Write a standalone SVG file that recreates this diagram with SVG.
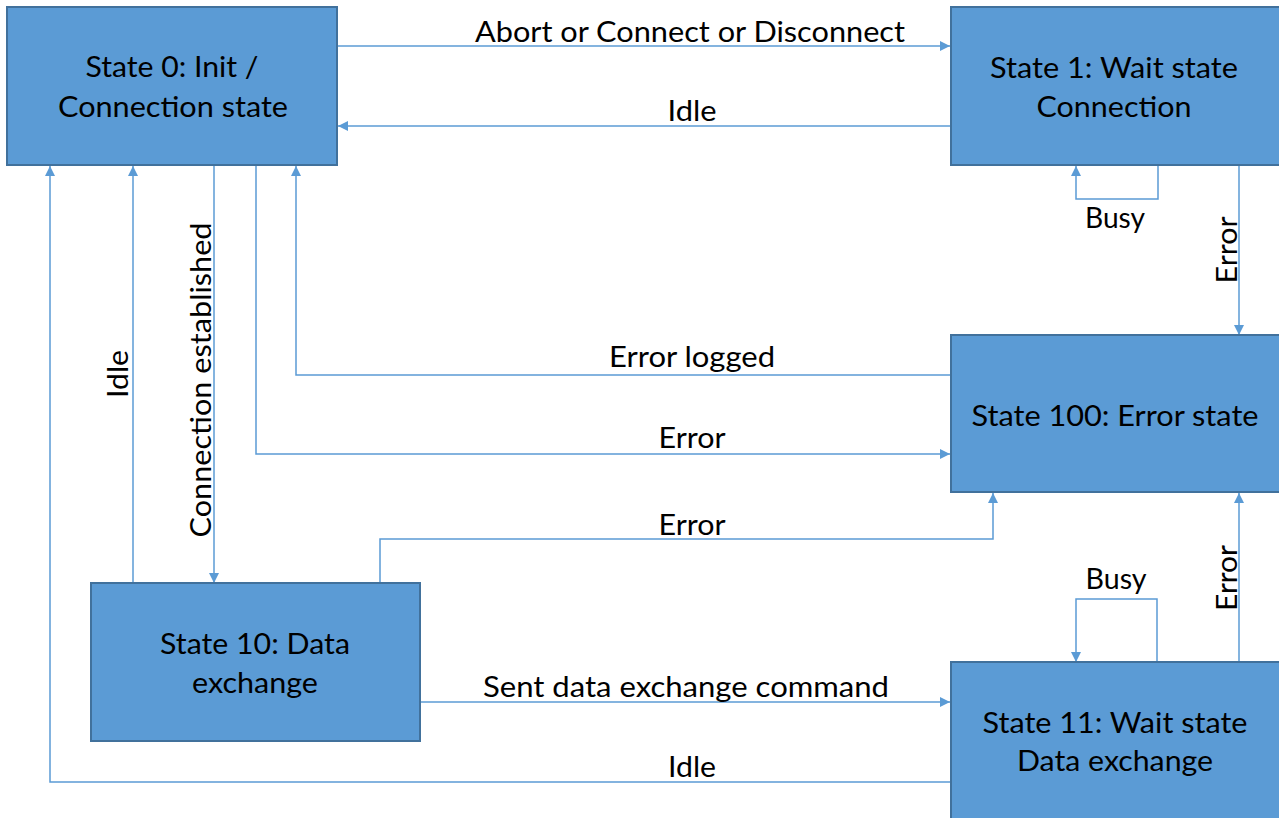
<svg xmlns="http://www.w3.org/2000/svg" width="1279" height="818" viewBox="0 0 1279 818">
  <style>
    .box { fill: #5B9BD5; stroke: #41719C; stroke-width: 2; }
    .lbl { font-family: Lato, "Open Sans", sans-serif; font-size: 28px; fill: #000; text-anchor: middle; }
    .wire { fill: none; stroke: #5B9BD5; stroke-width: 1.5; marker-end: url(#tip); }
  </style>
  <defs>
    <marker id="tip" viewBox="0 0 10 10" refX="10" refY="5" markerWidth="10" markerHeight="10" markerUnits="userSpaceOnUse" orient="auto">
      <path d="M0,0 L10,5 L0,10 Z" fill="#5B9BD5"/>
    </marker>
  </defs>
  <rect width="1279" height="818" fill="#FFFFFF"/>

  <!-- transitions -->
  <g id="connectors">
    <path class="wire" d="M337,46 H950"/>
    <path class="wire" d="M950,126 H338"/>
    <path class="wire" d="M1158,165 V199 H1076 V166"/>
    <path class="wire" d="M1239,165 V335"/>
    <path class="wire" d="M950,375 H296 V166"/>
    <path class="wire" d="M256,165 V454 H950"/>
    <path class="wire" d="M133,583 V166"/>
    <path class="wire" d="M214,165 V583"/>
    <path class="wire" d="M950,782 H50 V166"/>
    <path class="wire" d="M380,583 V539 H993 V493"/>
    <path class="wire" d="M420,702 H950"/>
    <path class="wire" d="M1157,662 V599 H1076 V662"/>
    <path class="wire" d="M1239,662 V493"/>

    <text class="lbl" x="690" y="42" textLength="430" lengthAdjust="spacingAndGlyphs">Abort or Connect or Disconnect</text>
    <text class="lbl" x="692" y="121" textLength="49" lengthAdjust="spacingAndGlyphs">Idle</text>
    <text class="lbl" x="1115" y="228" textLength="60" lengthAdjust="spacingAndGlyphs">Busy</text>
    <text class="lbl" transform="translate(1237,250) rotate(-90)" x="0" y="0" textLength="67" lengthAdjust="spacingAndGlyphs">Error</text>
    <text class="lbl" x="692" y="367" textLength="166" lengthAdjust="spacingAndGlyphs">Error logged</text>
    <text class="lbl" x="692" y="448" textLength="67" lengthAdjust="spacingAndGlyphs">Error</text>
    <text class="lbl" transform="translate(128,374) rotate(-90)" x="0" y="0" textLength="48" lengthAdjust="spacingAndGlyphs">Idle</text>
    <text class="lbl" transform="translate(211,380) rotate(-90)" x="0" y="0" textLength="315" lengthAdjust="spacingAndGlyphs">Connection established</text>
    <text class="lbl" x="692" y="535" textLength="67" lengthAdjust="spacingAndGlyphs">Error</text>
    <text class="lbl" x="1116" y="589" textLength="61" lengthAdjust="spacingAndGlyphs">Busy</text>
    <text class="lbl" transform="translate(1237,578) rotate(-90)" x="0" y="0" textLength="66" lengthAdjust="spacingAndGlyphs">Error</text>
    <text class="lbl" x="686" y="697" textLength="406" lengthAdjust="spacingAndGlyphs">Sent data exchange command</text>
    <text class="lbl" x="692" y="777" textLength="48" lengthAdjust="spacingAndGlyphs">Idle</text>
  </g>

  <!-- states -->
  <g id="state0">
    <rect class="box" x="7" y="7" width="330" height="158"/>
    <text class="lbl" x="172" y="77" textLength="173" lengthAdjust="spacingAndGlyphs">State 0: Init /</text>
    <text class="lbl" x="173" y="117" textLength="230" lengthAdjust="spacingAndGlyphs">Connection state</text>
  </g>
  <g id="state1">
    <rect class="box" x="951" y="7" width="340" height="158"/>
    <text class="lbl" x="1114" y="78" textLength="248" lengthAdjust="spacingAndGlyphs">State 1: Wait state</text>
    <text class="lbl" x="1114" y="117" textLength="155" lengthAdjust="spacingAndGlyphs">Connection</text>
  </g>
  <g id="state100">
    <rect class="box" x="951" y="335" width="340" height="157"/>
    <text class="lbl" x="1115" y="426" textLength="287" lengthAdjust="spacingAndGlyphs">State 100: Error state</text>
  </g>
  <g id="state10">
    <rect class="box" x="91" y="583" width="329" height="158"/>
    <text class="lbl" x="255" y="654" textLength="190" lengthAdjust="spacingAndGlyphs">State 10: Data</text>
    <text class="lbl" x="255" y="693" textLength="126" lengthAdjust="spacingAndGlyphs">exchange</text>
  </g>
  <g id="state11">
    <rect class="box" x="951" y="662" width="340" height="170"/>
    <text class="lbl" x="1115" y="733" textLength="265" lengthAdjust="spacingAndGlyphs">State 11: Wait state</text>
    <text class="lbl" x="1115" y="771" textLength="196" lengthAdjust="spacingAndGlyphs">Data exchange</text>
  </g>
</svg>
